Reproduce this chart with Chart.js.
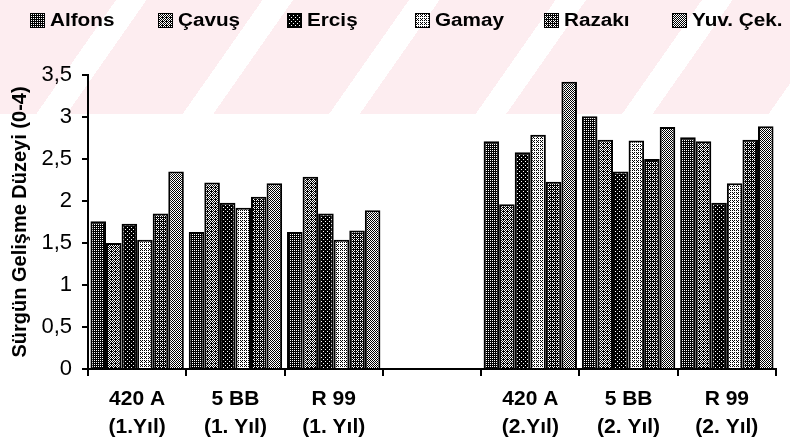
<!DOCTYPE html>
<html>
<head>
<meta charset="utf-8">
<script src="https://cdn.jsdelivr.net/npm/chart.js@4.4.1/dist/chart.umd.min.js"></script>
<style>
  html, body { margin: 0; padding: 0; background: #fff; }
  #wrap { position: relative; width: 790px; height: 443px; overflow: hidden; }
  #mark {
    position: absolute; left: 0; top: 0; width: 790px; height: 114px;
    background: repeating-linear-gradient(125deg, #fdedf0 0px, #fdedf0 95px, #fff 95px, #fff 120px);
  }
  #chart { position: absolute; left: 0; top: 0; }
  #legend {
    position: absolute; left: 30px; top: 10px; display: flex;
    font: bold 18px "Liberation Sans", Arial, sans-serif; color: #000;
  }
  .item { width: 128.4px; display: flex; align-items: center; }
  .box { width: 13px; height: 13px; border: 1px solid #000; margin-right: 5px; flex: none; }
  .txt { transform: scaleX(1.15); transform-origin: left center; white-space: nowrap; }
</style>
</head>
<body>
<div id="wrap">
  <div id="mark"></div>
  <canvas id="chart" width="790" height="443"></canvas>
  <div id="legend"></div>
</div>
<script>
// Sürgün gelişme düzeyi, 1. ve 2. yıl
const categories = [
  ["420 A", "(1.Yıl)"],
  ["5 BB", "(1. Yıl)"],
  ["R 99", "(1. Yıl)"],
  "",
  ["420 A", "(2.Yıl)"],
  ["5 BB", "(2. Yıl)"],
  ["R 99", "(2. Yıl)"],
];

const seriesNames = ["Alfons", "Çavuş", "Erciş", "Gamay", "Razakı", "Yuv. Çek."];

const alfons = [1.76, 1.63, 1.63, null, 2.71, 3.01, 2.76];
const cavus = [1.50, 2.22, 2.29, null, 1.96, 2.73, 2.71];
const ercis = [1.73, 1.98, 1.85, null, 2.58, 2.35, 1.98];
const gamay = [1.54, 1.92, 1.54, null, 2.79, 2.72, 2.21];
const razaki = [1.85, 2.05, 1.65, null, 2.23, 2.50, 2.73];
const yuvCek = [2.35, 2.21, 1.89, null, 3.42, 2.88, 2.89];

const FONT = '"Liberation Sans", Arial, sans-serif';

// small halftone tiles used as bar fills
function makeTile(bg, fg, pts) {
  const c = document.createElement("canvas");
  c.width = 4;
  c.height = 4;
  const x = c.getContext("2d");
  x.fillStyle = bg;
  x.fillRect(0, 0, 4, 4);
  x.fillStyle = fg;
  pts.forEach((p) => x.fillRect(p[0], p[1], 1, 1));
  return c;
}

const tiles = [
  makeTile("#000", "#fff", [[0, 0], [2, 0], [0, 2], [2, 2]]),
  makeTile("#000", "#fff", [[0, 0], [2, 0], [1, 1], [3, 1], [0, 2], [2, 2], [1, 3]]),
  makeTile("#000", "#fff", [[1, 1], [3, 3]]),
  makeTile("#fff", "#000", [[0, 0], [2, 0], [0, 2], [2, 2], [1, 1]]),
  makeTile("#000", "#fff", [[0, 0], [2, 0], [0, 2], [2, 2], [1, 3]]),
  makeTile("#fff", "#000", [[0, 0], [2, 0], [1, 1], [3, 1], [0, 2], [2, 2], [1, 3], [3, 3]]),
];

const ctx = document.getElementById("chart").getContext("2d");
const fills = tiles.map((t) => ctx.createPattern(t, "repeat"));
const values = [alfons, cavus, ercis, gamay, razaki, yuvCek];

const datasets = seriesNames.map((name, i) => ({
  label: name,
  data: values[i],
  backgroundColor: fills[i],
  borderColor: "#000",
  borderWidth: 2,
  categoryPercentage: 0.95,
  barPercentage: 1,
}));

// legend as html, fixed columns like the original
const legend = document.getElementById("legend");
seriesNames.forEach((name, i) => {
  const item = document.createElement("div");
  item.className = "item";
  const box = document.createElement("span");
  box.className = "box";
  box.style.backgroundImage = "url(" + tiles[i].toDataURL() + ")";
  const txt = document.createElement("span");
  txt.className = "txt";
  txt.textContent = name;
  item.appendChild(box);
  item.appendChild(txt);
  legend.appendChild(item);
});

new Chart(ctx, {
  type: "bar",
  data: {
    labels: categories,
    datasets: datasets,
  },
  options: {
    responsive: false,
    animation: false,
    layout: {
      padding: { left: 5, right: 14, top: 75, bottom: 0 },
    },
    plugins: {
      legend: { display: false },
      tooltip: { enabled: false },
    },
    scales: {
      x: {
        afterFit: function (scale) {
          scale.height = 74;
        },
        grid: {
          drawOnChartArea: false,
          offset: true,
          color: "#000",
          lineWidth: 2,
          tickLength: 7,
        },
        border: { color: "#000", width: 2 },
        ticks: {
          color: "#000",
          padding: 9,
          maxRotation: 0,
          autoSkip: false,
          font: { family: FONT, size: 21, weight: "bold", lineHeight: 1.35 },
        },
      },
      y: {
        min: 0,
        max: 3.5,
        afterFit: function (scale) {
          scale.width = 83;
        },
        grid: {
          drawOnChartArea: false,
          color: "#000",
          lineWidth: 2,
          tickLength: 6,
        },
        border: { color: "#000", width: 2 },
        ticks: {
          stepSize: 0.5,
          color: "#000",
          padding: 10,
          font: { family: FONT, size: 22 },
          callback: function (value) {
            return String(value).replace(".", ",");
          },
        },
        title: {
          display: true,
          text: "Sürgün Gelişme Düzeyi (0-4)",
          color: "#000",
          padding: { top: 3, bottom: 4 },
          font: { family: FONT, size: 20, weight: "bold" },
        },
      },
    },
  },
});
</script>
</body>
</html>
